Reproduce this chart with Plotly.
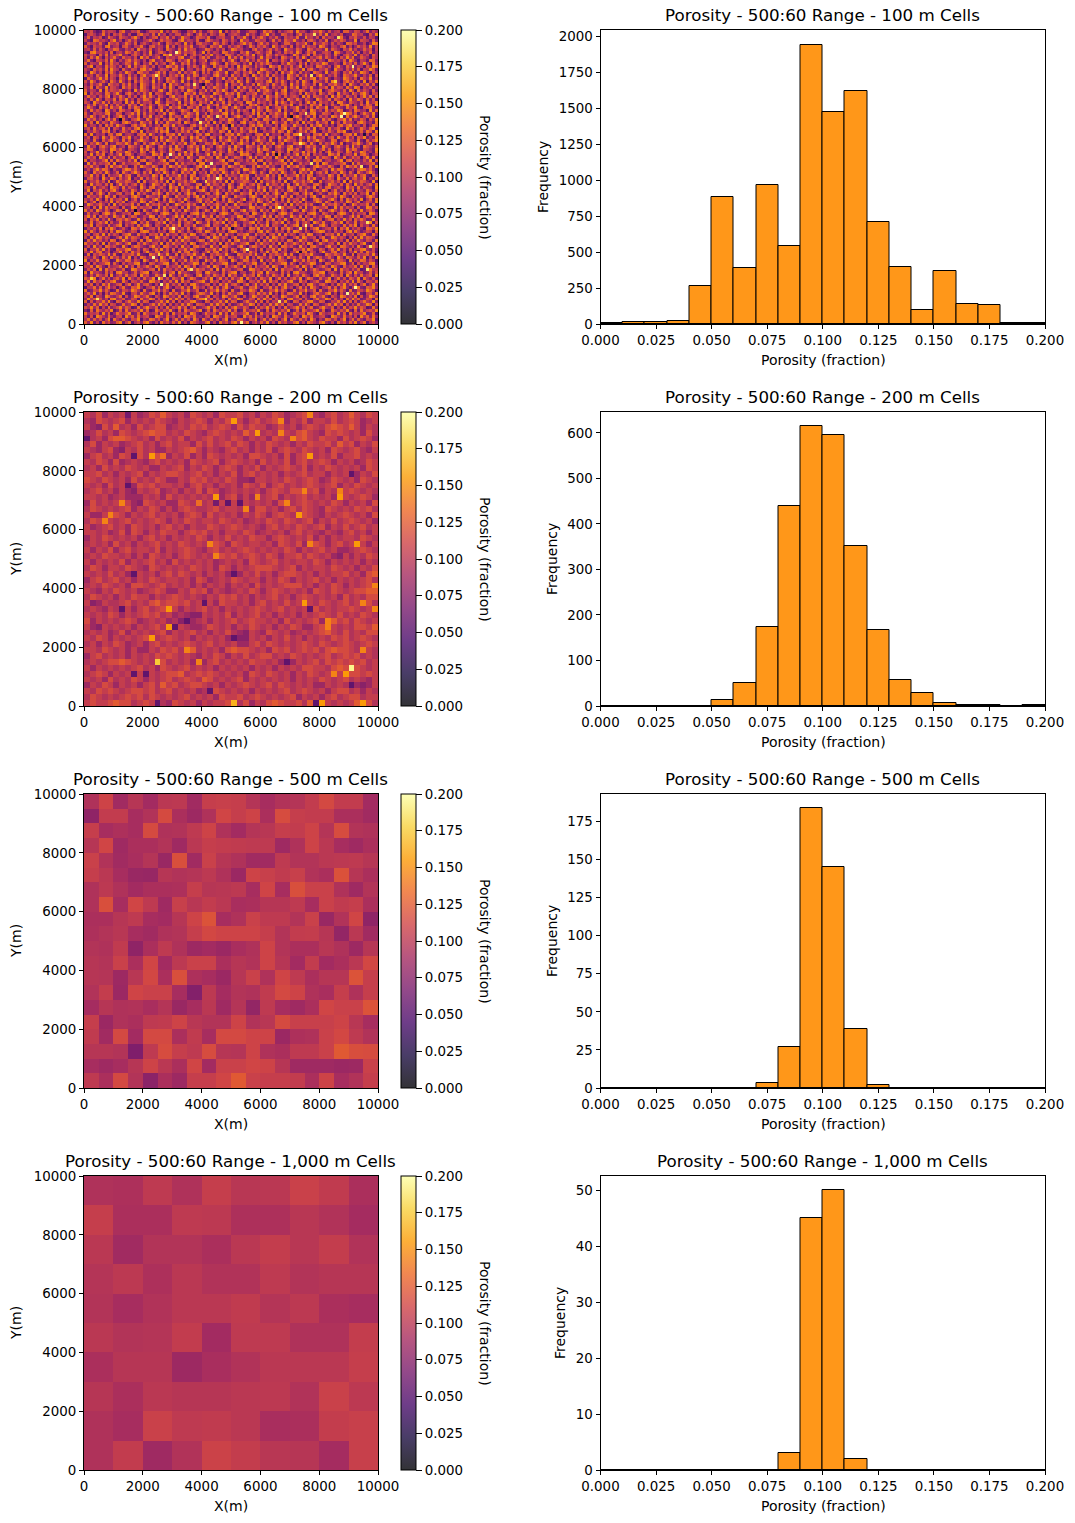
import plotly.graph_objects as go
W, H = 1075, 1523
# Level characters: each one stands for a porosity histogram bin
LEVELS = "0123456789abcdefghij"
BIN_VALUE = [0.005,0.015,0.025,0.035,0.045,0.055,0.065,0.075,0.085,0.095,0.105,0.115,0.125,0.135,0.145,0.155,0.165,0.175,0.185,0.195]
def decode(rows, marks):
    clean = [r.replace(" ", "") for r in rows]
    n = max(len(r) for r in clean)
    g = [[BIN_VALUE[LEVELS.index(c)] for c in r.ljust(n, "9")] for r in clean]
    for r, c, lv in marks:
        g[r][c] = BIN_VALUE[LEVELS.index(lv)]
    return g
poro_100 = [
# rows 1-10
"a9b75 6c8aa 95bd7 7a9c6 58bba 9e6a7 cb855 a9d7b 66ac9 8f5b7 a9c66 8bb95 7dac8 5a79b c6e9a 758ba d96b7 9a5cc 87ba6 9d7a8",
"5ab96 8d7a5 b9c86 a55bd 9a7c6 e8a59 7bb68 c95ad 8a6b9 7cc58 ab966 d8a75 9bf7a 66cb8 95ad7 b9a58 c7e69 a8b56 7dc9a 65b8e",
"8c6a9 b57da 86ca9 7be95 a68bc 5a9d7 b68ea 957cb a8d65 9ab77 c6a9e 85b7a d96a8 c75b9 a8d66 e9a7b 5c8a9 6bd75 a9c87 b6a95",
"a75dc 9a86b e7a59 c8b66 9ad85 7c9ba 65be8 a97c6 5bda8 96ca7 b85e9 a67cb 9a58d 7b6ca 9e87a 5bc96 a7d58 b9ca6 87e5b a96c7",
"6b9a8 c75ea 9b68d a7c59 b86a9 d75ca 8b96e 7a5bc 9a86d b7c95 a68be 9c75a d8b69 a57cc 86b9a e75d8 9ca6b 7a85d c9b67 a58ed",
"c85b9 a6de7 9a5bc 86a9d 75bc8 a96e7 b5a8c 9d67a b85ca 9e76b 8ac95 7da6b 9c85e a7b96 c5a8d 7b9a6 ec85a 97bd6 a58c9 b7e6a",
"9a6c7 b85a9 dc76a 8b5e9 a7c68 b95da 86c7e 9ba57 8dc96 a7b58 ec9a6 75bd8 a69c7 b85ea 97ca6 5db8a 97e6c a85b9 d7a68 c9b5a",
"75de9 a8b6c 59a7d b8c96 a7e58 bc96a 75d8b 9ac68 e5b7a 96dc8 a75b9 e86ac 97bd5 8a6c9 b7ea5 8c9d6 7ab95 ec86a 9d7b5 a8c69",
"b8a95 c7d6a 9be78 5ac96 b8d7a 95ec6 8ba7d 59c8a 6b9e7 a85dc 96b7a c8e59 a6db7 c9a85 7eb6a 9d5c8 a7b96 d85ac 97e6b 8a5c9",
"a6c8e 95b7a d86c9 a7b5e 9c68a d75b9 a8ce6 7b95a d8c67 b9a5e 8c7d6 a9b58 e7ca6 95db8 a6c7e 95a8b d7c96 a5b8e 9d67c a85b9",
# rows 11-20
"9d75b a8c6e 95a7b d8c96 a5be7 8a6dc 95b8a e7c69 ad58b 97c6a e85b9 d7a6c 98e5b a7c96 d8ab5 7e9c6 a85db 9a7c6 eb85a 96dc7",
"c6a98 e5b7d 9a68c b7e95 a8d6c 79b5a e86c9 d7a58 b96ce a75d8 bc96a 7e5b8 c9da6 75b8e a96c7 d5a8b 9ec67 a85d9 b7c6a e95d8",
"7be5a 96d8c a7b59 e6c8a d97b5 a86ec 9d7a5 b8c96 ea75d 8b9c6 a5e7d b96c8 a75eb 9d6a8 c79e5 b8a6d c97a5 be86c 9d7a9 5b8ec",
"a85c9 b7d6e a95c8 7ba6d e9c75 8ba96 dc7e5 a96b8 d7ca5 9e86b a7c9d 5b8a6 ec97a 5d8b6 c9a7e 5bd86 a9c75 ea96b 8d7c5 a9eb6",
"96eb7 a5c8d 96a7e b85dc 9a67b e8c5a 97d6b 8ae95 c7b6a d98e5 7ca6b 9d85e a7c96 b5d8a e96c7 a85db 96e7a c85b9 d6a7e c95b8",
"d8a6c 97e5b a8d96 c7a5b e89c6 d7a5b 9c8e6 a7db5 9a86c e97b5 d8a6c 95ea7 b8d6c 97a5e b8c69 d7a5b e96a8 c75db 9ae86 a7c5b",
"5c97a e8d6b 95ca7 e8b6d 9a5c7 e86db a95c7 e8a6b d97c5 a8e6b 9d7a5 c86eb a97d5 c8a6e b95d7 a8ce6 b9d75 a86ec 97b5d a8e69",
"b7ea6 9c85d a7e96 b5c8d a97e6 b85ca d97e6 a5b8c 9ed76 a85b9 c7ea6 d85b9 a7ce6 b8d95 a7c6e b85da 97c6e a85bd 9c7a6 e5b8d",
"96c8a d75eb 9a6c8 d7a5e b96c8 a7d5e 9b86a c7e95 db8a6 c97e5 ba8d6 97c5e a8b6d 97ca5 e8b6d a97c5 e86ba d97c5 ea86b 9d7c5",
"a8d5c 97e6b a85d9 c7a6e b85d9 a6c7e 95bd8 a7c96 e5a8d b97c6 a5e8d 9b6a7 ce95b 8a7d6 c9e5a b8d76 a9c5e 8ba6d 97ec5 a8b69",
# rows 21-30
"c7a96 e5d8b a9c67 a5e8d b96a7 ce85d 9a7b6 ec95a 8d7b6 c9ea5 8d7b9 6ca5e 8bd97 a6ce5 8a9db 76ca9 e58bd a97c6 ea5d8 b96c7",
"e5b8a 96dc7 ae85b d96a7 c8e5b a96dc 7a85e b9d6c a785e b96da c7e85 a9bd6 7ca95 e8bd6 a97c5 ea8b6 d97ca 5e8b9 6da7c e95ba",
"8d9a6 b7ce5 a8d96 c7b5a e8d96 ca75b e8a9d 6c7b5 ea9d8 6c7ab 95e8d a6c97 b5ea8 d96c7 ab95e 8d6ca 97b5e 8da6c 97b5a e8d6c",
"a6c7e 95ba8 d6c9e 7a5b8 dc96a e75b8 ad96c 7e5ba 8d96c 7ea5b 8d96c a7e5b 89da6 c7b5e a8d96 ca75e b89d6 ca7b5 e89da 6c7b5",
"b95ea 8d7c6 b9a5e 8d6c7 a9b5e d86ca 97e5b 8da6c 9b7e5 a8d6c 97ab5 ed86c 9a7b5 e8da6 c97b5 ae8d6 c9a7b 5ed86 ca97b 5e8ad",
"7c8d6 a9e5b 7c8a6 d9b5e a7c86 db9e5 a7c8d 6ba9e 57c8a d6b9e 5a7c8 6dbe9 5a7c8 d6ab9 e57c8 a6db9 e5a7c 86dbe 95a7c 8db6e",
"9ea75 c8b6d 9ae75 c8db6 a9e75 bc86d 9ae75 cb8d6 a9e75 b8cd6 9ea75 cb86d a9e57 bc8d6 9ae75 b8c6d a9e57 cb86d 9ae75 bcd86",
"a6d8b 95ec7 a6db8 95ce7 a6d8b 9e5c7 a68db 95ec7 a6bd8 9e5c7 a6d8b 95e7c a6db8 9e5c7 6ad8b 95ec7 a6d8b 9ec57 a6db8 95e7c",
"c75b9 a8de6 7cb59 ad8e6 c7b95 a8d6e c75b9 da8e6 7c5b9 a8de6 c7b59 a8d6e 7c5b9 da8e6 c75b9 a8de6 7cb95 a8d6e c7b59 da8e6",
"b8ea6 9c7d5 8bea6 c97d5 b8e6a 9c75d 8ba6e c97d5 b8ea6 9c7d5 8bea6 9c75d b8e6a c97d5 8bea6 9c7d5 b8a6e c975d 8bea6 9c7d5",
# rows 31-40
"6d9c7 a5be8 d69c7 5abe8 6d97c a5b8e d6c97 a5be8 6d9c7 5ab8e d697c a5be8 6dc97 a5b8e d69c7 a5eb8 6d9c7 5abe8 d697c a5b8e",
"a8c5e 7b96d a85ce b796d a8c5e 7b6d9 8ac5e b796d a8c5e 7b69d a85ce 7b96d a8c5e b79d6 a8c5e 7b96d 8ac5e 7b6d9 a85ce b796d",
"e7a96 b5d8c 7ea96 5bd8c e7a69 b5dc8 e7a96 5bd8c 7ea96 b5d8c e7a69 5bd8c e7a96 b5dc8 7ea96 b5d8c e7a69 5bd8c e7a96 b58dc",
"9b6d8 ac7e5 b96d8 a7ce5 9b68d ac7e5 9b6d8 ac75e b96d8 a7ce5 9b6d8 ac7e5 9b68d a7ce5 b96d8 ac7e5 9b6d8 ac75e 9b68d a7ce5",
"5a8c9 7dbe6 a58c9 7db6e 5a89c 7dbe6 5a8c9 d7be6 a58c9 7db6e 5a8c9 7dbe6 5a89c 7db6e a58c9 d7be6 5a8c9 7dbe6 5a89c 7db6e",
"d7e69 8a5bc 7de69 a85bc d7e96 8a5cb d7e69 8a5bc 7de69 8a5cb d7e96 a85bc d7e69 8a5bc 7de96 8a5cb d7e69 a85bc d7e69 8a5cb",
"8b5ca 6e97d b85ca e697d 8b5ac 6e97d 8b5ca 6e9d7 b85ca 6e97d 8b5ac e697d 8b5ca 6e97d b85ca 6e9d7 8b5ac 6e97d 8b5ca e697d",
"a96d7 5c8be 9a6d7 c58be a967d 5c8eb a96d7 5c8be 9a67d 5c8be a96d7 c58be a96d7 5c8eb 9a6d7 5c8be a967d c58be a96d7 5c8be",
"c7b9e a6d58 7cb9e a6d85 c7be9 a6d58 c7b9e 6ad58 7cb9e a6d85 c7be9 a6d58 c7b9e 6ad58 7cb9e a6d85 c7b9e a6d58 7cbe9 6ad58",
"6e8a5 bd97c e68a5 db97c 6ea85 bd97c 6e8a5 bd9c7 e68a5 bd97c 6ea85 db97c 6e8a5 bd97c e68a5 bd9c7 6ea85 bd97c 6e8a5 db97c",
# rows 41-50
"9dc75 ab86e d9c75 ba86e 9d7c5 ab86e 9dc75 ab8e6 d9c75 ab86e 9d7c5 ba86e 9dc75 ab86e d9c75 ab8e6 9d7c5 ab86e 9dc75 ba86e",
"b5a8e 7c96d 5ba8e c796d b5ae8 7c96d b5a8e 7c9d6 5ba8e 7c96d b5ae8 c796d b5a8e 7c96d 5ba8e 7c9d6 b5ae8 7c96d b5a8e c796d",
"a7e6c 9d58b 7ae6c d958b a76ec 9d58b a7e6c 9d5b8 7ae6c 9d58b a76ec d958b a7e6c 9d58b 7ae6c 9d5b8 a76ec 9d58b a7e6c d958b",
"8c9b5 ea7d6 c89b5 ae7d6 8cb95 ea7d6 8c9b5 ea76d c89b5 ea7d6 8cb95 ae7d6 8c9b5 ea7d6 c89b5 ea76d 8cb95 ea7d6 8c9b5 ae7d6",
"d6a97 8be5c 6da97 b8e5c d69a7 8be5c d6a97 8b5ec 6da97 8be5c d69a7 b8e5c d6a97 8be5c 6da97 8b5ec d69a7 8be5c d6a97 b8e5c",
"5e7c8 a9bd6 e57c8 9abd6 5ec78 a9bd6 5e7c8 a9b6d e57c8 a9bd6 5ec78 9abd6 5e7c8 a9bd6 e57c8 a9b6d 5ec78 a9bd6 5e7c8 9abd6",
"b9d8a 65c7e 9bd8a 56c7e b98da 65c7e b9d8a 657ce 9bd8a 65c7e b98da 56c7e b9d8a 65c7e 9bd8a 657ce b98da 65c7e b9d8a 56c7e",
"7a6be 9dc85 a76be d9c85 7ab6e 9dc85 7a6be 9d8c5 a76be 9dc85 7ab6e d9c85 7a6be 9dc85 a76be 9d8c5 7ab6e 9dc85 7a6be d9c85",
"c85d9 b7ea6 8c5d9 7bea6 c8d59 b7ea6 c85d9 b7e6a 8c5d9 b7ea6 c8d59 7bea6 c85d9 b7ea6 8c5d9 b7e6a c8d59 b7ea6 c85d9 7bea6",
"a9e7b 6d5c8 9ae7b d65c8 a97eb 6d5c8 a9e7b 6dc58 9ae7b 6d5c8 a97eb d65c8 a9e7b 6d5c8 9ae7b 6dc58 a97eb 6d5c8 a9e7b d65c8",
# rows 51-60
"6bc8a 5e97d b6c8a e597d 6b8ca 5e97d 6bc8a 5e9d7 b6c8a 5e97d 6b8ca e597d 6bc8a 5e97d b6c8a 5e9d7 6b8ca 5e97d 6bc8a e597d",
"d7a9c 8b6e5 7da9c b86e5 d79ac 8b6e5 d7a9c 8be65 7da9c 8b6e5 d79ac b86e5 d7a9c 8b6e5 7da9c 8be65 d79ac 8b6e5 d7a9c b86e5",
"95e8b a7c6d 59e8b 7ac6d 958eb a7c6d 95e8b a76cd 59e8b a7c6d 958eb 7ac6d 95e8b a7c6d 59e8b a76cd 958eb a7c6d 95e8b 7ac6d",
"ac6d7 9b85e ca6d7 b985e a6cd7 9b85e ac6d7 9b8e5 ca6d7 9b85e a6cd7 b985e ac6d7 9b85e ca6d7 9b8e5 a6cd7 9b85e ac6d7 b985e",
"8e5b9 d7a6c e85b9 7da6c 8eb59 d7a6c 8e5b9 d76ac e85b9 d7a6c 8eb59 7da6c 8e5b9 d7a6c e85b9 d76ac 8eb59 d7a6c 8e5b9 7da6c",
"b7c6a e95d8 7bc6a 9e5d8 b76ca e95d8 b7c6a e9d58 7bc6a e95d8 b76ca 9e5d8 b7c6a e95d8 7bc6a e9d58 b76ca e95d8 b7c6a 9e5d8",
"5d9a8 c6eb7 d59a8 6ceb7 5da98 c6eb7 5d9a8 c6be7 d59a8 c6eb7 5da98 6ceb7 5d9a8 c6eb7 d59a8 c6be7 5da98 c6eb7 5d9a8 6ceb7",
"a8b7e 95c6d 8ab7e 59c6d a87be 95c6d a8b7e 956cd 8ab7e 95c6d a87be 59c6d a8b7e 95c6d 8ab7e 956cd a87be 95c6d a8b7e 59c6d",
"c69d5 b8a7e 6c9d5 8ba7e c6d95 b8a7e c69d5 b87ae 6c9d5 b8a7e c6d95 8ba7e c69d5 b8a7e 6c9d5 b87ae c6d95 b8a7e c69d5 8ba7e",
"7eb8a d96c5 e7b8a 9d6c5 7e8ba d96c5 7eb8a d9c65 e7b8a d96c5 7e8ba 9d6c5 7eb8a d96c5 e7b8a d9c65 7e8ba d96c5 7eb8a 9d6c5",
# rows 61-70
"9a5c6 e7d8b a95c6 7ed8b 9ac56 e7d8b 9a5c6 e78db a95c6 e7d8b 9ac56 7ed8b 9a5c6 e7d8b a95c6 e78db 9ac56 e7d8b 9a5c6 7ed8b",
"d8b6e a7c95 8db6e 7ac95 d86be a7c95 d8b6e a79c5 8db6e a7c95 d86be 7ac95 d8b6e a7c95 8db6e a79c5 d86be a7c95 d8b6e 7ac95",
"6c7a9 5bed8 c67a9 b5ed8 6ca79 5bed8 6c7a9 5bde8 c67a9 5bed8 6ca79 b5ed8 6c7a9 5bed8 c67a9 5bde8 6ca79 5bed8 6c7a9 b5ed8",
"ae8d5 c9b67 ea8d5 9cb67 a8ed5 c9b67 ae8d5 c96b7 ea8d5 c9b67 a8ed5 9cb67 ae8d5 c9b67 ea8d5 c96b7 a8ed5 c9b67 ae8d5 9cb67",
"b5c9d 6a7e8 5bc9d a67e8 b59cd 6a7e8 b5c9d 6ae78 5bc9d 6a7e8 b59cd a67e8 b5c9d 6a7e8 5bc9d 6ae78 b59cd 6a7e8 b5c9d a67e8",
"87d6a c9e5b 78d6a 9ce5b 8d76a c9e5b 87d6a c95eb 78d6a c9e5b 8d76a 9ce5b 87d6a c9e5b 78d6a c95eb 8d76a c9e5b 87d6a 9ce5b",
"c9e5b a86d7 9ce5b 8a6d7 ce95b a86d7 c9e5b a8d67 9ce5b a86d7 ce95b 8a6d7 c9e5b a86d7 9ce5b a8d67 ce95b a86d7 c9e5b 8a6d7",
"6a8b7 d5c9e a68b7 5dc9e 68ab7 d5c9e 6a8b7 d59ce a68b7 d5c9e 68ab7 5dc9e 6a8b7 d5c9e a68b7 d59ce 68ab7 d5c9e 6a8b7 5dc9e",
"e7d96 b8a5c 7ed96 8ba5c ed796 b8a5c e7d96 b85ac 7ed96 b8a5c ed796 8ba5c e7d96 b8a5c 7ed96 b85ac ed796 b8a5c e7d96 8ba5c",
"9b5ac 7e6d8 b95ac e76d8 95bac 7e6d8 9b5ac 7ed68 b95ac 7e6d8 95bac e76d8 9b5ac 7e6d8 b95ac 7ed68 95bac 7e6d8 9b5ac e76d8",
# rows 71-80
"a6d7e c8b95 6ad7e 8cb95 ad67e c8b95 a6d7e c89b5 6ad7e c8b95 ad67e 8cb95 a6d7e c8b95 6ad7e c89b5 ad67e c8b95 a6d7e 8cb95",
"5c8e9 b7a6d c58e9 7ba6d 5ce89 b7a6d 5c8e9 b76ad c58e9 b7a6d 5ce89 7ba6d 5c8e9 b7a6d c58e9 b76ad 5ce89 b7a6d 5c8e9 7ba6d",
"d9a7b 6e5c8 9da7b e65c8 d97ab 6e5c8 d9a7b 6ec58 9da7b 6e5c8 d97ab e65c8 d9a7b 6e5c8 9da7b 6ec58 d97ab 6e5c8 d9a7b e65c8",
"7b6e8 a5dc9 b76e8 5adc9 76be8 a5dc9 7b6e8 a5cd9 b76e8 a5dc9 76be8 5adc9 7b6e8 a5dc9 b76e8 a5cd9 76be8 a5dc9 7b6e8 5adc9",
"c5a9d 8e7b6 5ca9d e87b6 ca59d 8e7b6 c5a9d 8eb76 5ca9d 8e7b6 ca59d e87b6 c5a9d 8e7b6 5ca9d 8eb76 ca59d 8e7b6 c5a9d e87b6",
"a8e7c d69b5 8ae7c 6d9b5 ae87c d69b5 a8e7c d6b95 8ae7c d69b5 ae87c 6d9b5 a8e7c d69b5 8ae7c d6b95 ae87c d69b5 a8e7c 6d9b5",
"6d5b9 ca8e7 d65b9 ac8e7 65db9 ca8e7 6d5b9 cae87 d65b9 ca8e7 65db9 ac8e7 6d5b9 ca8e7 d65b9 cae87 65db9 ca8e7 6d5b9 ac8e7",
"b97c8 5ea6d 9b7c8 e5a6d b79c8 5ea6d b97c8 5e6ad 9b7c8 5ea6d b79c8 e5a6d b97c8 5ea6d 9b7c8 5e6ad b79c8 5ea6d b97c8 e5a6d",
"e6a8d 7cb95 6ea8d c7b95 ea68d 7cb95 e6a8d 7c9b5 6ea8d 7cb95 ea68d c7b95 e6a8d 7cb95 6ea8d 7c9b5 ea68d 7cb95 e6a8d c7b95",
"8c5b7 9ade6 c85b7 a9de6 85cb7 9ade6 8c5b7 9aed6 c85b7 9ade6 85cb7 a9de6 8c5b7 9ade6 c85b7 9aed6 85cb7 9ade6 8c5b7 a9de6",
# rows 81-90
"a9d6e b75c8 9ad6e 7b5c8 ad96e b75c8 a9d6e b7c58 9ad6e b75c8 ad96e 7b5c8 a9d6e b75c8 9ad6e b7c58 ad96e b75c8 a9d6e 7b5c8",
"7b8c5 e6d9a b78c5 6ed9a 78bc5 e6d9a 7b8c5 e69da b78c5 e6d9a 78bc5 6ed9a 7b8c5 e6d9a b78c5 e69da 78bc5 e6d9a 7b8c5 6ed9a",
"d5e9a 86c7b 5de9a 68c7b de59a 86c7b d5e9a 867cb 5de9a 86c7b de59a 68c7b d5e9a 86c7b 5de9a 867cb de59a 86c7b d5e9a 68c7b",
"96b7d a8c5e 69b7d 8ac5e 9b67d a8c5e 96b7d a85ce 69b7d a8c5e 9b67d 8ac5e 96b7d a8c5e 69b7d a85ce 9b67d a8c5e 96b7d 8ac5e",
"ca8e5 9d7b6 ac8e5 d97b6 c8ae5 9d7b6 ca8e5 9db76 ac8e5 9d7b6 c8ae5 d97b6 ca8e5 9d7b6 ac8e5 9db76 c8ae5 9d7b6 ca8e5 d97b6",
"7e6d9 b5a8c e76d9 5ba8c 76ed9 b5a8c 7e6d9 b58ac e76d9 b5a8c 76ed9 5ba8c 7e6d9 b5a8c e76d9 b58ac 76ed9 b5a8c 7e6d9 5ba8c",
"b8c5a 6d9e7 8bc5a d69e7 bc85a 6d9e7 b8c5a 6de97 8bc5a 6d9e7 bc85a d69e7 b8c5a 6d9e7 8bc5a 6de97 bc85a 6d9e7 b8c5a d69e7",
"5a9d7 c6be8 a59d7 6cbe8 59ad7 c6be8 5a9d7 c6eb8 a59d7 c6be8 59ad7 6cbe8 5a9d7 c6be8 a59d7 c6eb8 59ad7 c6be8 5a9d7 6cbe8",
"d67ba e8c95 6d7ba 8ec95 d76ba e8c95 d67ba e89c5 6d7ba e8c95 d76ba 8ec95 d67ba e8c95 6d7ba e89c5 d76ba e8c95 d67ba 8ec95",
"9c8e6 a5b7d c98e6 5ab7d 98ce6 a5b7d 9c8e6 a57bd c98e6 a5b7d 98ce6 5ab7d 9c8e6 a5b7d c98e6 a57bd 98ce6 a5b7d 9c8e6 5ab7d",
# rows 91-100
"a7d5b 96ec8 7ad5b 69ec8 ad75b 96ec8 a7d5b 96ce8 7ad5b 96ec8 ad75b 69ec8 a7d5b 96ec8 7ad5b 96ce8 ad75b 96ec8 a7d5b 69ec8",
"8e9c6 b7a5d e89c6 7ba5d 89ec6 b7a5d 8e9c6 b75ad e89c6 b7a5d 89ec6 7ba5d 8e9c6 b7a5d e89c6 b75ad 89ec6 b7a5d 8e9c6 7ba5d",
"c5b6a 9d8e7 5cb6a d98e7 cb56a 9d8e7 c5b6a 9de87 5cb6a 9d8e7 cb56a d98e7 c5b6a 9d8e7 5cb6a 9de87 cb56a 9d8e7 c5b6a d98e7",
"6a7d8 e9c5b a67d8 9ec5b 67ad8 e9c5b 6a7d8 e95cb a67d8 e9c5b 67ad8 9ec5b 6a7d8 e9c5b a67d8 e95cb 67ad8 e9c5b 6a7d8 9ec5b",
"b9e8c 5a6d7 9be8c a56d7 be98c 5a6d7 b9e8c 5ad67 9be8c 5a6d7 be98c a56d7 b9e8c 5a6d7 9be8c 5ad67 be98c 5a6d7 b9e8c a56d7",
"75c6d a8b9e 57c6d 8ab9e 7c56d a8b9e 75c6d a89be 57c6d a8b9e 7c56d 8ab9e 75c6d a8b9e 57c6d a89be 7c56d a8b9e 75c6d 8ab9e",
"d8a9b 6e7c5 8da9b e67c5 da89b 6e7c5 d8a9b 6ec75 8da9b 6e7c5 da89b e67c5 d8a9b 6e7c5 8da9b 6ec75 da89b 6e7c5 d8a9b e67c5",
"a6b5e c97d8 6ab5e 9c7d8 ab65e c97d8 a6b5e c9d78 6ab5e c97d8 ab65e 9c7d8 a6b5e c97d8 6ab5e c9d78 ab65e c97d8 a6b5e 9c7d8",
"9d7c8 b6ae5 d97c8 6bae5 97dc8 b6ae5 9d7c8 b6ea5 d97c8 b6ae5 97dc8 6bae5 9d7c8 b6ae5 d97c8 b6ea5 97dc8 b6ae5 9d7c8 6bae5",
"c8e6a 5d9b7 8ce6a d59b7 ce86a 5d9b7 c8e6a 5db97 8ce6a 5d9b7 ce86a d59b7 c8e6a 5d9b7 8ce6a 5db97 ce86a 5d9b7 c8e6a d59b7",
]
poro_200 = [
# rows 1-10
"a9b8a 9aba8 9baca 9a8ba 9a8ba ab9a8 a9ba8 9aba9 8ab9a ca9ba",
"98ba9 ab8a9 a9ba9 8a9ab a8a9b 9a8ab 9aba8 a9b8a a9b9a ba89a",
"a87b9 c9a8b 9abb8 9a9ba b9aba 8b9ba a89b9 a8aba 9bcba ca8a9",
"89b9a 8ba9a bcbb9 a9ba9 8aba9 a9ca8 9a9ba 9bca9 8baba 9a8b9",
"79a8b ccba9 a8b9a 9b8a9 ab9a9 ba8a9 a8ba9 abca9 baa8b 9aba8",
"9b8a9 a89ab 9a8ab 9aa8b 9b9ab 9ba8a 9ba9a 8a9ba ab9ca b8a9b",
"a98ab 87a9b 9a88a 9abca 8a98a b9a8a 9b8ab a9ba9 a8ba9 ab98a",
"8ab9a 8ba8b 9abd8 a9b8a 8ba9a 9a8bb a9a8b 8aba9 a9b8a ab9a9",
"a9ba8 b89a9 8ab9a 9a8ba 9ab8a ba9a8 b9a9b 8ab9a ba8a9 a89ba",
"9a8b9 a9ba9 a88a9 ab8a9 ba8ab a8a9b 8a9ab a9b8a 9ba9a 9a8ba",
# rows 11-20
"aab9a 8a9ab 8a9ab ba9ab 9a8a9 b8ab9 a9a8a 9ab9a a8a9a 78a9b",
"ba9ba 9a8b9 a9ba8 8a9ba b9a9b a887a a9a9b a9aba 89ba9 a8ba9",
"a9a8b 9a78b ab9aa 9a8ab 9a8a9 a8ba9 b8ab9 a9aba 9ab8a 9ba9a",
"9ab9a 8a87a 9ab89 a8a9b 8ba89 a9a9a 8aba9 bbaab 8a9ca ba9a9",
"aa9a8 9a888 a9a8b 9a9a9 a9a8a b8a8a 9ab8a 9ab9a 9a8ba 9aba8",
"8b9a9 a9a87 ba9a8 8ba9a 9a9a8 a8a9a 9a8bb 9aba9 a9ba8 a9a8b",
"9ba9a 9ab8a 9ba8a 8aba9 9ab9a a9a8b b9a8a b9ba9 8ba9a 9bab9",
"a88a9 ba8a9 ab9a9 a8aba 8b9a9 a8a9b a8aba 9aba9 8a9ab a9a8b",
"9ba9a 9ab9a 9aba8 a9ba9 aa9ba 9a89a 9ba9b a9ab8 a9b9a ba9a8",
"a89ab 9a8ba 9a8ab 9a8a9 9ba9a ba9a9 8ab9a 9ba9a b8a9b 9ab9a",
# rows 21-30
"aa9a8 9b8ba 8a9ba a8aba b9a8a a9ba8 9a9a8 ab9a9 8a98a b9a8a",
"8a9ba 9a9a8 ab9a8 a9a9b a8a9b 9a9ba a8aba 9a9b8 a8a9a a9ba9",
"9a9a8 b9a8a 9ab9a 9ba9a 9aba8 ba9aa 9a8ba 9b8ab a8ab9 a8a8a",
"a8a9b 8ab9a a9b8a 9aba9 8ab9a 9aba9 a9a9b a8a9a b9a88 9aba9",
"9a9ba a9a8a 8ba9a 8aba9 a9aba b9aba 9ba8a ab9ba 9a87a 8a9ba",
"a8a9a 9b8a9 ab9a8 b9a9a 9a89a 9a8ba 9ab9a 9aa9b a8a9a 9a8a9",
"9ba8a a9ba9 8ba9a 9a9ba 9a8ba 8a9ab bba9a b8a9a a9ba9 a8a9b",
"a9a9b 9a87a 9a8ab 9ba9a 8a9a8 a8a9b 9a8ab ba9a8 a9aab 9a8bc",
"8ab9a b9a8a 9ba9a a9a8b a89a9 ba9aa 8a9ba 8a9ab 9a8a9 a9ab9",
"9a9ba 9a8bb a9ab9 a9a8a 8a9a8 a9a8b 9a9ab bb9a8 a9ba8 a9abc",
# rows 31-40
"a98a9 ba9a8 9aba8 8a9ba b8a98 9a9ba 8aba9 a9a8b a9ba9 abbcc",
"9ba9a 8a9ba a8a9a ba9a9 8a9ba b9a8a 9ab9a 8aba9 a9a8b 9a9bb",
"a78a9 9ab9a 9bcab bab9a 9a8ba a9a8a b9a9b 9aba9 ba9ab 9aab9",
"9a98a 9ba8a b9ab9 a8a9a b9a8a 9a9ab a9ab9 a9a8b 9a9aa ba9ac",
"a9a9b a8a9a bab9a 89877 a9a9b 8a9ab 9a8a9 a8a9a ba9b9 a9ba9",
"b8a9a 9aba8 9a9a8 97889 a8a9a b9aba a9a8b 9a9ab 8bcab 9ba9a",
"a87a9 a9a8a 9ab97 7a988 9ba9a 8a9ba 9a8a9 ba88a bca9a 9bbac",
"9a9a8 9b8a9 a9ab8 a9ab9 a8a9b 987a9 8ba9a 89a9a bca9b 9a9bb",
"a9ba8 a9a9a ba9ab a9a8a 9a9a8 877a9 a8a9b 9a8a9 a9bab 9aba9",
"9a8a9 ba89a 8ab9a 9aba9 ab9a9 a88ab 9ba9a 9aba9 ba9ab a9aba",
# rows 41-50
"aa9ba 9a8a8 8a9ba b9bc9 a9a8b cbba9 a8bab 9abab 9bcbb a9ca9",
"8ab9a 9a8a9 a9bab a9a98 a9ba8 a9b9a bb9a9 ba9a9 ab9ab ab9a9",
"9a9ab bcba9 a9cb9 a9a8b 8ab9a 9a9ba a9a8a 8a9ab 9baba bab9a",
"a8a9a 9a9ab 9a8ba 9ab9a 9a8a9 a9a8a 9a8a9 a9bba a9bcb cba9a",
"9aba8 a9a8a 8a9ab bc9ab aba9a 9a8ba 9ba9a 8a9ba 9abab bbaba",
"a9a8b 9a9ba 8a9ab 9aba9 cb9a9 ab8a9 a9a9a 8a9a9 ba9ab 9a98a",
"8a9ba 8a9a8 ab9ca b9abb a9a8a 9aba9 ab9ba 9a9a8 8a9a9 a878a",
"a9bab a9abb ab9ab 9a9a8 9aba9 a9a8a 9a9ab 9aba9 a8abb 9a8a9",
"9ba9a 9abab 9ba9a 9ab9a 9a8ba ab9ab a9a9a b8a9a 8ab9a bb9aa",
"abaab cbb9a ba998 ba9a8 a9aab a9b8a 9bcba ab9ca 9a9a9 accb9",
]
hot_100 = [(7,31,"j"),(8,29,"h"),(15,24,"i"),(18,37,"i"),(18,40,"2"),(29,45,"i"),(31,39,"i"),(30,12,"1"),(42,29,"j"),(45,43,"j"),(46,41,"h"),(32,49,"2"),
           (1,78,"i"),(2,86,"i"),(12,91,"j"),(15,77,"i"),(17,85,"h"),(28,75,"i"),(29,70,"1"),(29,87,"j"),(28,88,"j"),(35,73,"j"),(38,73,"i"),(42,65,"1"),(45,77,"i"),(46,94,"i"),(35,95,"2"),
           (50,45,"j"),(51,41,"h"),(61,17,"1"),(67,30,"j"),(77,23,"j"),(76,25,"h"),(81,36,"i"),(83,27,"i"),(84,25,"i"),(86,26,"j"),(84,2,"h"),(91,4,"i"),(91,41,"h"),
           (60,66,"j"),(66,75,"j"),(67,73,"h"),(74,55,"j"),(65,96,"i"),(73,97,"i"),(81,96,"i"),(87,92,"j"),(89,89,"j"),(92,66,"i"),(99,53,"j"),(67,50,"2"),(75,73,"2")]
hot_200 = [(0,38,"e"),(1,25,"f"),(1,33,"e"),(3,29,"f"),(3,33,"e"),(4,35,"e"),(7,11,"f"),(7,38,"f"),(14,22,"f"),(14,29,"e"),(13,43,"e"),(14,43,"f"),(13,37,"e"),(15,6,"e"),(15,19,"d"),(15,34,"e"),(16,27,"e"),(17,36,"f"),(17,4,"e"),(18,3,"e"),
           (22,21,"e"),(22,46,"f"),(24,22,"e"),(22,38,"e"),(32,37,"f"),(32,47,"e"),(33,49,"e"),(33,14,"f"),(35,41,"e"),(36,41,"e"),(36,14,"f"),(38,11,"f"),(40,17,"e"),(40,47,"e"),(42,12,"h"),(43,45,"j"),(42,19,"e"),(44,44,"f"),(44,42,"e"),(49,25,"g"),(49,40,"f"),(49,47,"f"),(29,49,"e"),
           (0,7,"6"),(7,8,"5"),(12,7,"5"),(15,26,"5"),(15,22,"6"),(15,24,"5"),(10,45,"5"),(27,8,"5"),(27,25,"5"),(32,20,"5"),(33,6,"5"),(33,38,"5"),(35,17,"5"),(36,15,"5"),(38,25,"5"),(44,8,"5"),(44,10,"5"),(42,34,"5"),(49,12,"5"),(49,39,"5"),(47,21,"5"),(46,45,"5"),(4,0,"5")]
poro_500 = [
[.094,.110,.087,.098,.088,.100,.101,.087,.106,.107,.106,.097,.090,.095,.097,.104,.114,.104,.104,.088],
[.078,.104,.104,.090,.095,.115,.092,.085,.094,.112,.106,.110,.092,.116,.106,.104,.104,.092,.092,.087],
[.106,.090,.093,.090,.115,.094,.095,.102,.110,.094,.088,.097,.099,.106,.104,.110,.097,.116,.096,.094],
[.098,.112,.086,.092,.092,.096,.086,.100,.106,.104,.103,.102,.102,.086,.094,.110,.100,.090,.086,.092],
[.108,.095,.087,.091,.097,.083,.118,.087,.108,.098,.094,.087,.087,.102,.096,.096,.100,.101,.102,.098],
[.106,.100,.090,.083,.082,.098,.095,.097,.101,.094,.084,.110,.107,.103,.107,.095,.092,.119,.098,.092],
[.094,.101,.094,.088,.092,.092,.093,.106,.098,.099,.101,.090,.111,.090,.118,.108,.108,.094,.086,.096],
[.094,.118,.090,.112,.102,.086,.107,.099,.104,.100,.091,.092,.098,.098,.102,.090,.108,.103,.106,.092],
[.092,.092,.098,.102,.090,.088,.098,.110,.120,.090,.094,.108,.102,.102,.096,.108,.083,.095,.112,.078],
[.093,.096,.099,.090,.087,.094,.096,.106,.113,.110,.110,.110,.106,.096,.104,.105,.098,.080,.100,.087],
[.096,.094,.103,.078,.092,.102,.094,.085,.088,.084,.091,.094,.110,.096,.092,.092,.099,.094,.085,.098],
[.098,.096,.108,.092,.112,.088,.101,.108,.108,.092,.098,.095,.110,.098,.088,.104,.088,.092,.100,.113],
[.098,.097,.085,.099,.113,.092,.118,.093,.090,.084,.098,.108,.094,.111,.102,.092,.098,.098,.120,.106],
[.095,.105,.084,.111,.108,.108,.090,.072,.101,.089,.096,.094,.103,.114,.110,.094,.091,.106,.094,.106],
[.089,.098,.094,.095,.091,.097,.083,.090,.100,.086,.097,.080,.102,.090,.086,.092,.112,.108,.108,.120],
[.106,.084,.094,.092,.102,.103,.110,.099,.096,.096,.110,.095,.099,.115,.107,.107,.107,.110,.099,.090],
[.103,.087,.114,.088,.114,.114,.092,.103,.090,.114,.114,.110,.110,.084,.093,.094,.108,.113,.102,.095],
[.098,.098,.096,.070,.102,.116,.106,.102,.116,.098,.097,.110,.094,.092,.102,.102,.108,.124,.117,.116],
[.090,.086,.090,.098,.110,.100,.092,.112,.088,.108,.108,.112,.110,.098,.086,.086,.086,.084,.085,.108],
[.102,.092,.114,.096,.076,.092,.085,.106,.106,.112,.124,.108,.106,.106,.104,.092,.110,.090,.095,.106]]
poro_1000 = [
[.094,.093,.102,.094,.106,.099,.100,.108,.103,.092],
[.106,.092,.092,.102,.101,.093,.093,.099,.095,.089],
[.100,.087,.096,.096,.092,.100,.105,.099,.105,.095],
[.097,.101,.093,.100,.095,.095,.102,.096,.098,.098],
[.096,.090,.095,.100,.100,.103,.097,.101,.092,.090],
[.100,.096,.097,.104,.088,.102,.102,.094,.094,.105],
[.092,.098,.098,.085,.091,.095,.100,.100,.100,.106],
[.098,.092,.100,.098,.098,.100,.101,.095,.108,.101],
[.094,.090,.108,.102,.103,.100,.091,.092,.105,.107],
[.094,.104,.086,.095,.109,.105,.099,.098,.089,.107]]
cell_labels = ["100", "200", "500", "1,000"]
cell_size = [100, 200, 500, 1000]
grids = [decode(poro_100, hot_100), decode(poro_200, hot_200), poro_500, poro_1000]
bin_edges = [i * 0.01 for i in range(21)]
hist_100 = [5,12,15,18,265,880,390,965,545,1940,1470,1620,710,395,100,365,140,130,8,5]
hist_200 = [0,0,0,0,0,13,50,173,440,615,595,352,166,58,28,6,2,2,0,2]
hist_500 = [0,0,0,0,0,0,0,3,27,184,145,39,2,0,0,0,0,0,0,0]
hist_1000 = [0,0,0,0,0,0,0,0,3,45,50,2,0,0,0,0,0,0,0,0]
hists = [hist_100, hist_200, hist_500, hist_1000]
y_max = [2042, 646, 193, 52.5]
y_ticks = [list(range(0,2001,250)), list(range(0,601,100)), list(range(0,176,25)), list(range(0,51,10))]
y_title_px = [543, 552, 552, 560]
inferno = ["#000004","#1b0c41","#4a0c6b","#781c6d","#a52c60","#cf4446","#ed6925","#fb9b06","#f7d13d","#fcffa4"]
def blend(h, a=0.8):
    r = [int(h[i:i+2], 16) for i in (1, 3, 5)]
    return "rgb(%d,%d,%d)" % tuple(round(a * c + (1 - a) * 255) for c in r)
scale = [[i / 9, c] for i, c in enumerate(inferno)]
scale_bar = [[i / 9, blend(c)] for i, c in enumerate(inferno)]
tops = [30, 412, 794, 1176]
AH = 294
FONT = "DejaVu Sans"
TICK = 13.4
LABEL = 14
TITLE = 16.7
fig = go.Figure()
ann = []
def px(x): return x / W
def py(y): return 1 - y / H
def text(t, x, y, size, angle=0):
    ann.append(dict(text=t, x=px(x), y=py(y), xref="paper", yref="paper", showarrow=False, xanchor="center", yanchor="middle",
                    textangle=angle, font=dict(family=FONT, size=size, color="black")))
axstyle = dict(showline=True, linecolor="black", linewidth=1, mirror=True, ticks="outside", ticklen=4, tickwidth=1, tickcolor="black",
               showgrid=False, zeroline=False, tickfont=dict(family=FONT, size=TICK, color="black"))
for i in range(4):
    top = tops[i]
    a = 2 * i + 1
    b = 2 * i + 2
    s = "" if a == 1 else str(a)
    t = str(b)
    c = cell_size[i]
    fig.add_trace(go.Heatmap(z=grids[i], x0=c / 2, dx=c, y0=10000 - c / 2, dy=-c, zmin=0, zmax=0.2, colorscale=scale, showscale=False,
                             xaxis="x" + s, yaxis="y" + s))
    fig.add_trace(go.Scatter(x=[None], y=[None], mode="markers", xaxis="x" + s, yaxis="y" + s, showlegend=False,
        marker=dict(color=[0, 0.2], cmin=0, cmax=0.2, colorscale=scale_bar, showscale=True, colorbar=dict(
            x=px(400.5), xanchor="left", xpad=0, ypad=0, thickness=15, y=py(top + AH / 2), yanchor="middle", len=AH / H, lenmode="fraction",
            outlinewidth=1, outlinecolor="black", ticks="outside", ticklen=6, tickwidth=1, tickcolor="black",
            tickvals=[k * 0.025 for k in range(9)], tickformat=".3f", tickfont=dict(family=FONT, size=TICK, color="black")))))
    fig.add_trace(go.Bar(x=[e + 0.005 for e in bin_edges[:-1]], y=hists[i], width=0.01, xaxis="x" + t, yaxis="y" + t, showlegend=False,
                         marker=dict(color="rgb(255,151,25)", line=dict(color="black", width=1))))
    fig.update_layout({
        "xaxis" + s: dict(domain=[px(84), px(378)], range=[0, 10000], tickvals=list(range(0, 10001, 2000)), tickformat="d", anchor="y" + s, **axstyle),
        "yaxis" + s: dict(domain=[py(top + AH), py(top)], range=[0, 10000], tickvals=list(range(0, 10001, 2000)), tickformat="d", anchor="x" + s, **axstyle),
        "xaxis" + t: dict(domain=[px(600.5), px(1045)], range=[0, 0.2], tickvals=[k * 0.025 for k in range(9)], tickformat=".3f", anchor="y" + t, **axstyle),
        "yaxis" + t: dict(domain=[py(top + AH), py(top)], range=[0, y_max[i]], tickvals=y_ticks[i], tickformat="d", anchor="x" + t, **axstyle),
    })
    title = f"Porosity - 500:60 Range - {cell_labels[i]} m Cells"
    text(title, 230.5, top - 15, TITLE)
    text(title, 822.5, top - 15, TITLE)
    text("X(m)", 231, top + AH + 36, LABEL)
    text("Porosity (fraction)", 823, top + AH + 36, LABEL)
    text("Y(m)", 16, top + AH / 2, LABEL, -90)
    text("Frequency", y_title_px[i], top + AH / 2, LABEL, -90)
    text("Porosity (fraction)", 485, top + AH / 2, LABEL, 90)
fig.update_layout(width=W, height=H, margin=dict(l=0, r=0, t=0, b=0, autoexpand=False), paper_bgcolor="white", plot_bgcolor="white", showlegend=False,
                  annotations=ann, bargap=0)
fig.write_html("out.html", config=dict(displayModeBar=False), post_script="document.body.style.margin='0';document.body.style.overflow='hidden';")
